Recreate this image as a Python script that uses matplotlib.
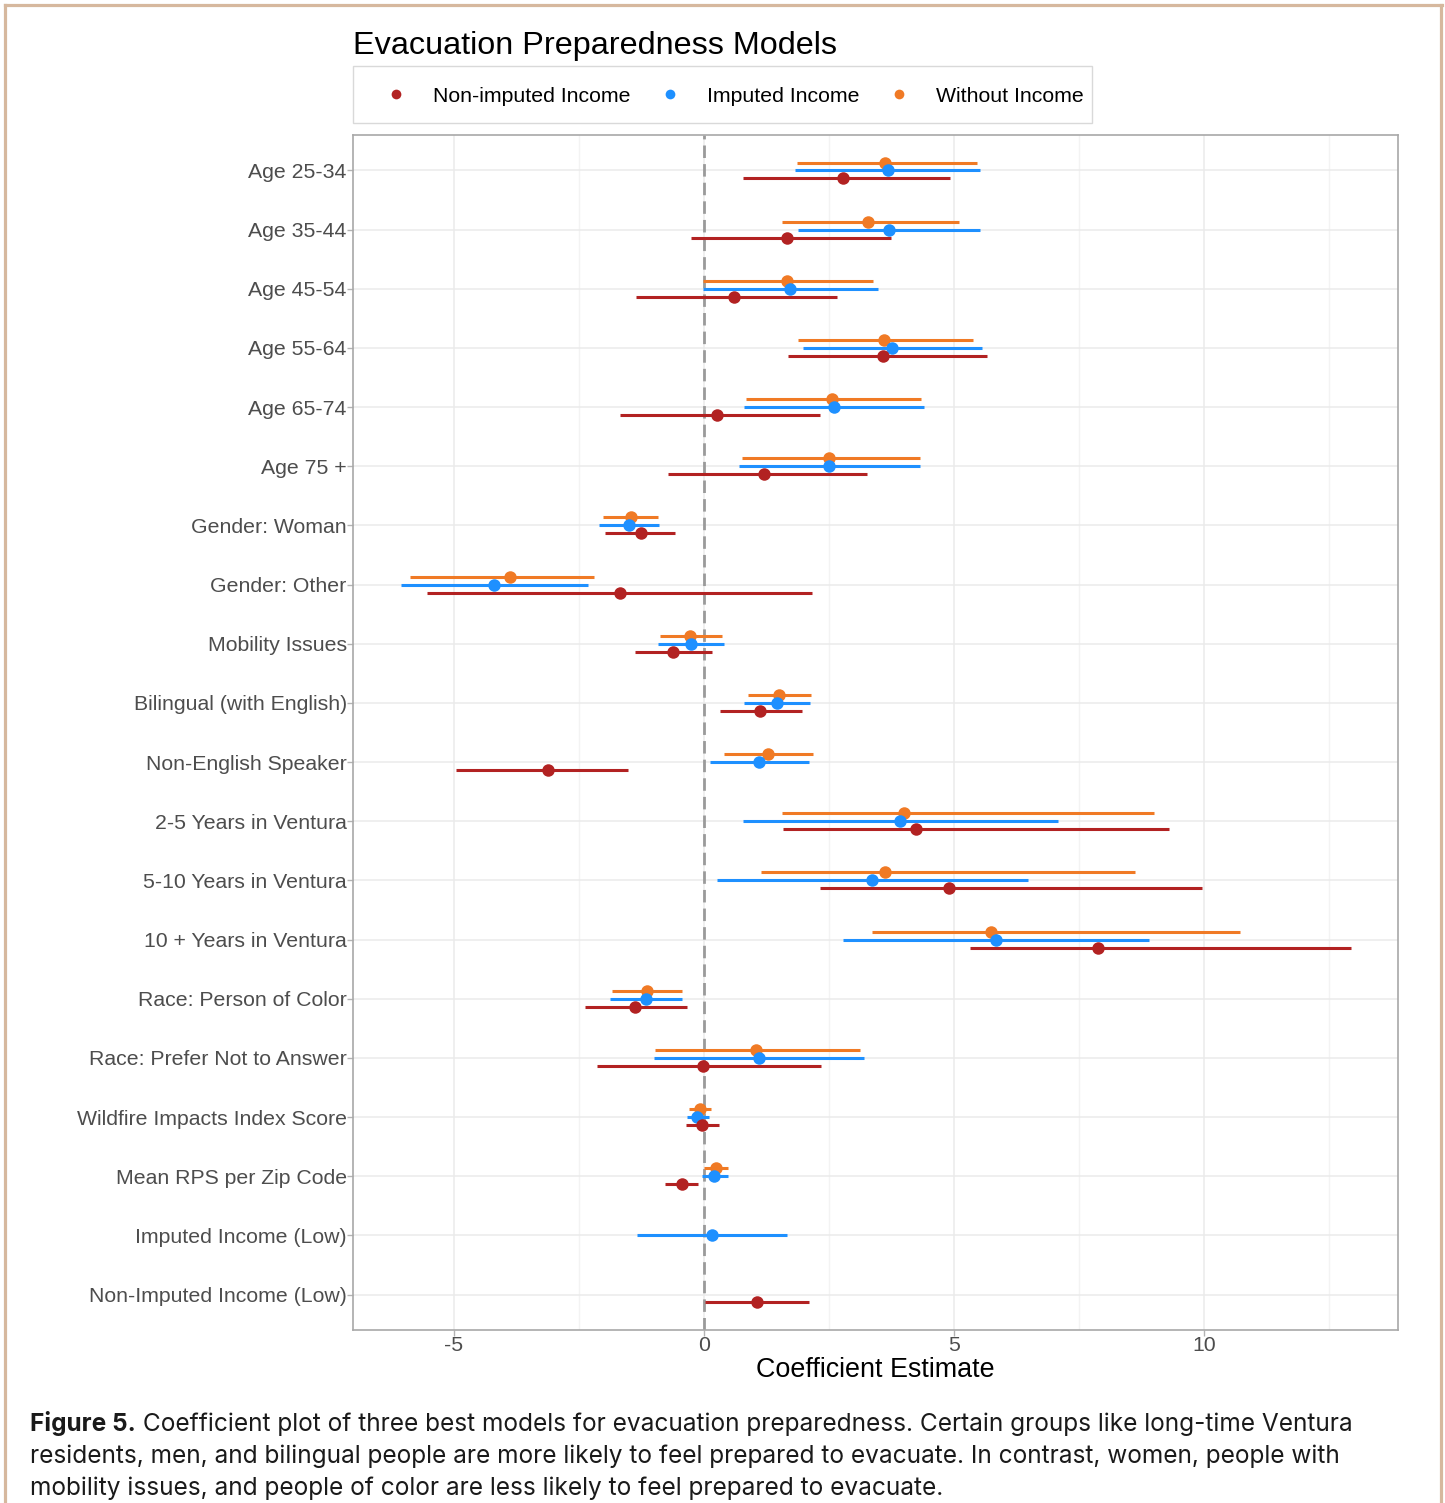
import numpy as np
import matplotlib
matplotlib.use("Agg")
import matplotlib.pyplot as plt
from matplotlib.lines import Line2D
from matplotlib.patches import Rectangle

# ---- data -------------------------------------------------------------
terms = [
    "Age 25-34", "Age 35-44", "Age 45-54", "Age 55-64", "Age 65-74",
    "Age 75 +", "Gender: Woman", "Gender: Other", "Mobility Issues",
    "Bilingual (with English)", "Non-English Speaker",
    "2-5 Years in Ventura", "5-10 Years in Ventura", "10 + Years in Ventura",
    "Race: Person of Color", "Race: Prefer Not to Answer",
    "Wildfire Impacts Index Score", "Mean RPS per Zip Code",
    "Imputed Income (Low)", "Non-Imputed Income (Low)",
]

nan = np.nan
# Non-imputed income model
nonimp_est = [2.77, 1.66, 0.59, 3.58, 0.25, 1.19, -1.27, -1.68, -0.63, 1.11,
              -3.13, 4.24, 4.90, 7.87, -1.38, -0.03, -0.05, -0.45, nan, 1.05]
nonimp_lo = [0.78, -0.27, -1.36, 1.67, -1.69, -0.73, -1.98, -5.55, -1.39, 0.31,
             -4.97, 1.58, 2.31, 5.31, -2.39, -2.15, -0.37, -0.78, nan, 0.01]
nonimp_hi = [4.91, 3.74, 2.65, 5.65, 2.31, 3.25, -0.59, 2.15, 0.15, 1.95,
             -1.53, 9.30, 9.95, 12.93, -0.35, 2.34, 0.29, -0.12, nan, 2.09]

# Imputed income model
imp_est = [3.67, 3.69, 1.72, 3.75, 2.60, 2.50, -1.51, -4.21, -0.27, 1.45,
           1.10, 3.92, 3.36, 5.83, -1.17, 1.09, -0.14, 0.20, 0.15, nan]
imp_lo = [1.82, 1.87, -0.02, 1.97, 0.79, 0.69, -2.11, -6.07, -0.92, 0.80,
          0.11, 0.77, 0.25, 2.78, -1.88, -1.01, -0.35, -0.05, -1.35, nan]
imp_hi = [5.51, 5.51, 3.47, 5.55, 4.40, 4.32, -0.90, -2.33, 0.39, 2.11,
          2.10, 7.07, 6.47, 8.89, -0.44, 3.20, 0.09, 0.48, 1.66, nan]

# Model without income
noinc_est = [3.61, 3.28, 1.65, 3.59, 2.55, 2.50, -1.47, -3.89, -0.28, 1.49,
             1.27, 4.00, 3.61, 5.73, -1.15, 1.03, -0.09, 0.23, nan, nan]
noinc_lo = [1.85, 1.55, -0.02, 1.87, 0.83, 0.75, -2.03, -5.89, -0.89, 0.88,
            0.40, 1.55, 1.13, 3.35, -1.85, -0.99, -0.30, -0.01, nan, nan]
noinc_hi = [5.45, 5.10, 3.38, 5.38, 4.33, 4.31, -0.92, -2.21, 0.35, 2.14,
            2.17, 8.99, 8.62, 10.71, -0.44, 3.11, 0.13, 0.48, nan, nan]

model_labels = ["Non-imputed Income", "Imputed Income", "Without Income"]
model_colors = ["#B22222", "#1E90FF", "#F07A25"]

caption_bold = "Figure 5."
caption_lines = [
    " Coefficient plot of three best models for evacuation preparedness. Certain groups like long-time Ventura",
    "residents, men, and bilingual people are more likely to feel prepared to evacuate. In contrast, women, people with",
    "mobility issues, and people of color are less likely to feel prepared to evacuate.",
]

# ---- figure -----------------------------------------------------------
W, H = 1445, 1503
fig = plt.figure(figsize=(W / 100, H / 100), dpi=100)
fig.patch.set_facecolor("white")

def fx(px):
    return px / W

def fy(py):
    return 1 - py / H

ax = fig.add_axes([fx(353), fy(1330), fx(1398) - fx(353), fy(135) - fy(1330)])

font = ["Liberation Sans", "DejaVu Sans"]
lab_col = "#4D4D4D"

# grid
major_x = [-5, 0, 5, 10]
minor_x = [-7.5, -2.5, 2.5, 7.5, 12.5]
for v in minor_x:
    ax.axvline(v, color="#F3F3F3", lw=1.0, zorder=0)
for v in major_x:
    ax.axvline(v, color="#EBEBEB", lw=1.1, zorder=0)
ypos = np.arange(len(terms))
for yv in ypos:
    ax.axhline(yv, color="#EBEBEB", lw=1.1, zorder=0)

ax.axvline(0, color="#9A9A9A", lw=2.0, ls=(0, (4.5, 2.2)), zorder=1)

# coefficient estimates with intervals
series = [
    (noinc_est, noinc_lo, noinc_hi, model_colors[2], -0.135),
    (imp_est, imp_lo, imp_hi, model_colors[1], 0.0),
    (nonimp_est, nonimp_lo, nonimp_hi, model_colors[0], 0.135),
]
for k, (est, lo, hi, col, off) in enumerate(series):
    est = np.asarray(est, float)
    lo = np.asarray(lo, float)
    hi = np.asarray(hi, float)
    ok = ~np.isnan(est)
    yy = ypos[ok] + off
    ax.hlines(yy, lo[ok], hi[ok], color=col, lw=2.2, zorder=2 + k)
    ax.plot(est[ok], yy, "o", color=col, ms=9, mec="none", zorder=2 + k)

all_vals = np.concatenate([np.asarray(a, float) for a in
                           (nonimp_lo, nonimp_hi, imp_lo, imp_hi, noinc_lo, noinc_hi)])
lo_all, hi_all = np.nanmin(all_vals), np.nanmax(all_vals)
pad = 0.05 * (hi_all - lo_all)
ax.set_xlim(lo_all - pad, hi_all + pad)
ax.set_ylim(len(terms) - 0.4, -0.6)

ax.set_xticks(major_x)
ax.set_xticklabels(["-5", "0", "5", "10"], fontsize=15.3, color=lab_col, family=font)
ax.set_yticks(ypos)
ax.set_yticklabels(terms, fontsize=15.3, color=lab_col, family=font)
ax.tick_params(axis="y", length=4, width=1, color="#B3B3B3", pad=0.5)
ax.tick_params(axis="x", length=4, width=1, color="#B3B3B3", pad=0)

for s in ax.spines.values():
    s.set_color("#A8A8A8")
    s.set_linewidth(1.2)

ax.set_xlabel("Coefficient Estimate", fontsize=19.4, family=font, color="black", labelpad=1.5)

# title
fig.text(fx(353), fy(46), "Evacuation Preparedness Models", fontsize=23.3,
         family=font, color="black", ha="left", va="center")

# legend (box drawn separately)
fig.add_artist(Rectangle((fx(353), fy(123)), fx(1092) - fx(353), fy(66) - fy(123),
                         transform=fig.transFigure, facecolor="white",
                         edgecolor="#D9D9D9", lw=1.0, zorder=1))
handles = [Line2D([], [], ls="none", marker="o", ms=7, mec="none", color=c)
           for c in model_colors]
leg = fig.legend(handles, model_labels, ncol=3, loc="center left",
                 bbox_to_anchor=(fx(353), fy(96)), frameon=False,
                 prop={"family": font, "size": 15.3},
                 borderpad=0.78, handlelength=2.5, handletextpad=0.5,
                 columnspacing=0.6, borderaxespad=0)
leg.set_zorder(2)

# caption
cap_font = ["Inter", "DejaVu Sans"]
cap_size = 17.6
cap_col = "#1A1A1A"
t0 = fig.text(fx(30), fy(1424), caption_bold, fontsize=cap_size, family=cap_font,
              weight="bold", color=cap_col, ha="left", va="center")
fig.canvas.draw()
bb = t0.get_window_extent(renderer=fig.canvas.get_renderer())
fig.text(bb.x1 / W, fy(1424), caption_lines[0], fontsize=cap_size, family=cap_font,
         color=cap_col, ha="left", va="center")
fig.text(fx(30), fy(1456), caption_lines[1], fontsize=cap_size, family=cap_font,
         color=cap_col, ha="left", va="center")
fig.text(fx(30), fy(1488), caption_lines[2], fontsize=cap_size, family=cap_font,
         color=cap_col, ha="left", va="center")

# page frame
frame_col = "#D6B89E"
for xs, ys in [((5, 1442), (5, 5)), ((5, 5), (5, 1503)), ((1441, 1441), (5, 1503))]:
    fig.add_artist(Line2D([fx(x) for x in xs], [fy(y) for y in ys],
                          transform=fig.transFigure, color=frame_col, lw=2.3))

fig.savefig("out.png", dpi=100)
